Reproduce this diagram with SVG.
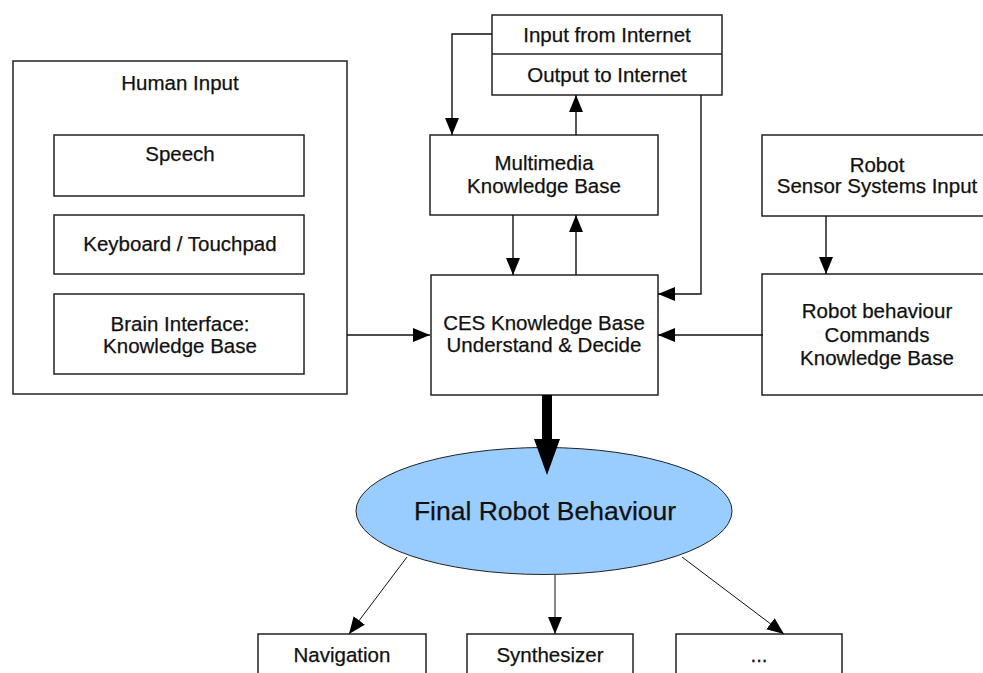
<svg xmlns="http://www.w3.org/2000/svg" width="983" height="673" viewBox="0 0 983 673">
  <style>
    .box { fill: #ffffff; stroke: #222; stroke-width: 1.5; }
    .t { font-family: "Liberation Sans", Arial, sans-serif; font-size: 20.5px; fill: #111; stroke: #111; stroke-width: 0.25; text-anchor: middle; }
    .big { font-size: 26.5px; }
    .wire { fill: none; stroke: #111; stroke-width: 1.4; }
    .thin { fill: none; stroke: #111; stroke-width: 1; }
  </style>
  <defs>
    <marker id="arrow" markerUnits="userSpaceOnUse" markerWidth="18" markerHeight="14" refX="17" refY="7" orient="auto">
      <path d="M0,0 L17,7 L0,14 z" fill="#000"/>
    </marker>
  </defs>
  <rect width="983" height="673" fill="#ffffff"/>

  <g id="human-input">
    <rect class="box" x="13" y="61" width="334" height="333"/>
    <text class="t" x="180" y="90">Human Input</text>
  </g>
  <g id="speech">
    <rect class="box" x="54" y="135" width="250" height="61"/>
    <text class="t" x="180" y="161">Speech</text>
  </g>
  <g id="keyboard">
    <rect class="box" x="54" y="215" width="250" height="59"/>
    <text class="t" x="180" y="251">Keyboard / Touchpad</text>
  </g>
  <g id="brain">
    <rect class="box" x="54" y="294" width="250" height="80"/>
    <text class="t" x="180" y="331">Brain Interface:</text>
    <text class="t" x="180" y="353">Knowledge Base</text>
  </g>

  <g id="internet">
    <rect class="box" x="492" y="15" width="230" height="80"/>
    <line x1="492" y1="54" x2="722" y2="54" stroke="#222" stroke-width="1.5"/>
    <text class="t" x="607" y="42">Input from Internet</text>
    <text class="t" x="607" y="82">Output to Internet</text>
  </g>
  <g id="multimedia">
    <rect class="box" x="430" y="135" width="228" height="80"/>
    <text class="t" x="544" y="170">Multimedia</text>
    <text class="t" x="544" y="193">Knowledge Base</text>
  </g>
  <g id="ces">
    <rect class="box" x="431" y="275" width="227" height="120"/>
    <text class="t" x="544" y="330">CES Knowledge Base</text>
    <text class="t" x="544" y="352">Understand &amp; Decide</text>
  </g>
  <g id="sensor">
    <rect class="box" x="762" y="135" width="232" height="81"/>
    <text class="t" x="877" y="172">Robot</text>
    <text class="t" x="877" y="193">Sensor Systems Input</text>
  </g>
  <g id="behaviour-commands">
    <rect class="box" x="762" y="274" width="232" height="121"/>
    <text class="t" x="877" y="318">Robot behaviour</text>
    <text class="t" x="877" y="342">Commands</text>
    <text class="t" x="877" y="365">Knowledge Base</text>
  </g>

  <g id="final">
    <ellipse cx="544" cy="511" rx="188" ry="63.5" fill="#99ccff" stroke="#222" stroke-width="1"/>
    <text class="t big" x="545" y="520">Final Robot Behaviour</text>
  </g>
  <g id="navigation">
    <rect class="box" x="258" y="634" width="168" height="80"/>
    <text class="t" x="342" y="662">Navigation</text>
  </g>
  <g id="synthesizer">
    <rect class="box" x="467" y="634" width="166" height="80"/>
    <text class="t" x="550" y="662">Synthesizer</text>
  </g>
  <g id="more">
    <rect class="box" x="676" y="634" width="166" height="80"/>
    <text class="t" x="759" y="662">...</text>
  </g>

  <g id="connectors">
    <path class="wire" d="M347,335 H430" marker-end="url(#arrow)"/>
    <path class="wire" d="M492,34 H452 V135" marker-end="url(#arrow)"/>
    <path class="wire" d="M576,135 V95" marker-end="url(#arrow)"/>
    <path class="wire" d="M701,95 V294 H658" marker-end="url(#arrow)"/>
    <path class="wire" d="M513,215 V275" marker-end="url(#arrow)"/>
    <path class="wire" d="M576,275 V215" marker-end="url(#arrow)"/>
    <path class="wire" d="M826,216 V274" marker-end="url(#arrow)"/>
    <path class="wire" d="M763,335 H658" marker-end="url(#arrow)"/>
    <rect x="542" y="395" width="10" height="45" fill="#000"/>
    <polygon points="534,439 560,439 547,475" fill="#000"/>
    <path class="thin" d="M407,557 L349,634" marker-end="url(#arrow)"/>
    <path class="thin" d="M555,575 V634" marker-end="url(#arrow)"/>
    <path class="thin" d="M682,557 L784,634" marker-end="url(#arrow)"/>
  </g>
</svg>
